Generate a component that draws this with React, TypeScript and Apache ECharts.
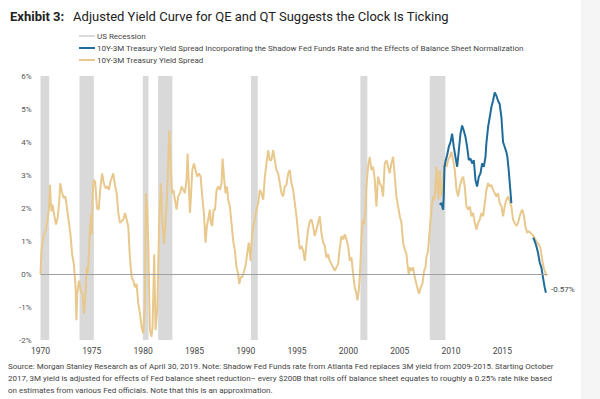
import React, { useEffect, useRef } from "react";
import * as echarts from "echarts";

// ---- Data ----
const recessions: [number, number][] = [
  [1970.0, 1970.85],
  [1973.8, 1975.2],
  [1979.97, 1980.52],
  [1981.46, 1982.85],
  [1990.5, 1991.17],
  [2001.17, 2001.85],
  [2007.93, 2009.45],
];

// 10Y-3M Treasury Yield Spread (year, %)
const treasurySpread: [number, number][] = [
  [1970.0, 0.0], [1970.08, 0.6], [1970.17, 0.9], [1970.33, 1.2], [1970.5, 1.3], [1970.67, 1.6],
  [1970.83, 2.0], [1970.92, 2.7], [1971.0, 2.2], [1971.08, 1.9], [1971.17, 2.1], [1971.33, 1.8],
  [1971.5, 1.5], [1971.67, 1.7], [1971.83, 2.2], [1971.92, 2.75], [1972.08, 2.5], [1972.25, 2.3],
  [1972.42, 2.35], [1972.58, 2.0], [1972.75, 1.6], [1972.92, 1.2], [1973.08, 0.6], [1973.25, 0.3],
  [1973.42, -0.4], [1973.5, -1.4], [1973.58, -0.6], [1973.75, -0.2], [1973.92, -0.5], [1974.08, -0.6],
  [1974.25, -1.2], [1974.42, -0.4], [1974.5, 0.2], [1974.58, 0.0], [1974.67, 0.3], [1974.83, 1.4],
  [1974.92, 1.8], [1975.0, 1.2], [1975.08, 2.4], [1975.17, 2.85], [1975.33, 2.8], [1975.5, 2.0],
  [1975.67, 1.95], [1975.83, 2.6], [1976.0, 3.05], [1976.17, 2.75], [1976.33, 2.6], [1976.5, 2.65],
  [1976.67, 2.55], [1976.77, 2.75], [1977.09, 3.05], [1977.25, 2.7], [1977.42, 2.45], [1977.58, 1.85],
  [1977.74, 1.55], [1978.07, 1.65], [1978.23, 1.85], [1978.39, 1.65], [1978.55, 1.45], [1978.71, 0.5],
  [1978.88, -0.1], [1979.04, -0.2], [1979.2, -0.4], [1979.36, -0.3], [1979.53, -0.9], [1979.69, -1.2],
  [1979.85, -1.6], [1980.01, -1.8], [1980.17, -0.9], [1980.27, 2.45], [1980.4, 1.95], [1980.5, 0.9],
  [1980.66, -1.7], [1980.82, -1.9], [1980.92, -1.6], [1981.08, 0.6], [1981.21, -1.7], [1981.37, -1.1],
  [1981.57, 1.6], [1981.73, 2.75], [1981.9, 1.5], [1982.03, 0.9], [1982.19, 1.6], [1982.35, 2.45],
  [1982.55, 4.35], [1982.68, 3.35], [1982.81, 2.45], [1982.94, 2.55], [1983.1, 2.25], [1983.26, 1.95],
  [1983.42, 2.35], [1983.59, 2.45], [1983.75, 2.65], [1983.91, 2.55], [1984.07, 2.45], [1984.23, 2.85],
  [1984.33, 3.65], [1984.46, 2.65], [1984.56, 1.85], [1984.66, 2.35], [1984.79, 3.15], [1984.95, 3.35],
  [1985.11, 3.15], [1985.27, 2.95], [1985.44, 3.05], [1985.6, 2.95], [1985.76, 2.35], [1985.92, 1.85],
  [1986.08, 0.95], [1986.21, 1.45], [1986.34, 1.65], [1986.5, 1.95], [1986.6, 1.55], [1986.73, 1.45],
  [1986.86, 1.95], [1987.0, 1.95], [1987.16, 2.55], [1987.32, 2.65], [1987.48, 2.55], [1987.64, 2.75],
  [1987.74, 3.5], [1987.9, 2.85], [1988.03, 2.45], [1988.16, 2.65], [1988.29, 2.25], [1988.45, 2.05],
  [1988.61, 1.55], [1988.78, 1.0], [1988.94, 0.7], [1989.1, 0.2], [1989.26, 0.0], [1989.36, -0.3],
  [1989.52, -0.1], [1989.65, -0.1], [1989.85, 0.1], [1990.01, 0.3], [1990.17, 0.7], [1990.3, 0.95],
  [1990.47, 0.4], [1990.56, 0.95], [1990.73, 1.45], [1990.89, 1.65], [1991.05, 1.95], [1991.21, 2.15],
  [1991.37, 2.55], [1991.53, 2.45], [1991.7, 2.25], [1991.86, 2.95], [1992.02, 3.35], [1992.18, 3.75],
  [1992.34, 3.45], [1992.5, 3.45], [1992.67, 3.75], [1992.83, 3.45], [1992.99, 3.15], [1993.15, 3.05],
  [1993.32, 2.75], [1993.48, 2.45], [1993.64, 2.35], [1993.8, 2.65], [1993.96, 2.7], [1994.13, 3.05],
  [1994.29, 3.15], [1994.45, 2.75], [1994.62, 2.55], [1994.78, 2.15], [1994.94, 1.75], [1995.1, 1.25],
  [1995.26, 0.75], [1995.42, 0.85], [1995.59, 0.7], [1995.75, 0.4], [1995.91, 0.9], [1996.07, 1.35],
  [1996.24, 1.6], [1996.4, 1.65], [1996.56, 1.45], [1996.72, 1.15], [1996.89, 1.35], [1997.05, 1.55],
  [1997.21, 1.75], [1997.37, 1.25], [1997.54, 0.95], [1997.7, 0.85], [1997.86, 0.5], [1998.02, 0.6],
  [1998.18, 0.4], [1998.35, 0.3], [1998.51, 0.2], [1998.67, 0.1], [1998.83, 0.2], [1999.0, 0.3],
  [1999.16, 0.8], [1999.33, 1.15], [1999.49, 1.05], [1999.65, 1.2], [1999.81, 1.05], [1999.97, 0.85],
  [2000.14, 0.4], [2000.3, 0.5], [2000.46, 0.0], [2000.62, -0.4], [2000.79, -0.6], [2000.88, -0.8],
  [2001.01, -0.5], [2001.14, 0.1], [2001.27, 1.1], [2001.4, 1.65], [2001.53, 1.5], [2001.66, 1.95],
  [2001.75, 2.65], [2001.92, 3.25], [2002.08, 3.55], [2002.24, 3.15], [2002.41, 3.25], [2002.57, 2.85],
  [2002.73, 2.05], [2002.89, 2.95], [2003.06, 2.75], [2003.22, 2.65], [2003.38, 2.35], [2003.54, 3.35],
  [2003.71, 3.45], [2003.87, 3.25], [2004.03, 3.05], [2004.19, 3.35], [2004.36, 3.55], [2004.52, 2.95],
  [2004.68, 2.35], [2004.84, 2.05], [2005.01, 1.75], [2005.17, 1.55], [2005.33, 0.95], [2005.49, 0.75],
  [2005.66, 0.6], [2005.75, 0.3], [2005.88, 0.0], [2006.0, 0.2], [2006.14, 0.1], [2006.3, 0.2],
  [2006.47, -0.1], [2006.63, -0.3], [2006.79, -0.5], [2006.89, -0.6], [2007.05, -0.4], [2007.21, -0.3],
  [2007.38, 0.1], [2007.51, 0.2], [2007.6, 0.5], [2007.76, 0.7], [2007.93, 1.35], [2008.09, 1.95],
  [2008.25, 2.35], [2008.32, 2.25], [2008.45, 2.45], [2008.58, 3.25], [2008.68, 2.65], [2008.77, 2.25],
  [2008.9, 3.15], [2009.07, 2.35], [2009.23, 2.85], [2009.39, 3.35], [2009.56, 3.25], [2009.72, 3.45],
  [2009.88, 3.55], [2010.04, 3.7], [2010.2, 3.45], [2010.37, 3.15], [2010.53, 2.55], [2010.69, 2.35],
  [2010.85, 2.65], [2011.02, 2.85], [2011.18, 2.95], [2011.34, 2.65], [2011.5, 2.05], [2011.66, 1.95],
  [2011.83, 2.05], [2011.99, 1.75], [2012.15, 1.85], [2012.31, 1.55], [2012.48, 1.35], [2012.64, 1.55],
  [2012.8, 1.65], [2012.97, 1.85], [2013.13, 1.75], [2013.29, 2.15], [2013.45, 2.55], [2013.61, 2.75],
  [2013.77, 2.65], [2013.93, 2.7], [2014.09, 2.55], [2014.26, 2.45], [2014.42, 2.35], [2014.58, 2.45],
  [2014.74, 2.15], [2014.91, 2.05], [2015.07, 1.75], [2015.23, 2.05], [2015.39, 2.25], [2015.56, 2.35],
  [2015.72, 2.2], [2015.88, 2.05], [2016.04, 1.65], [2016.2, 1.55], [2016.37, 1.45], [2016.53, 1.55],
  [2016.69, 1.75], [2016.85, 1.9], [2016.95, 1.95], [2017.11, 1.75], [2017.24, 1.45], [2017.41, 1.25],
  [2017.57, 1.3], [2017.73, 1.25], [2017.89, 1.2], [2018.05, 1.15], [2018.22, 1.05], [2018.38, 0.95],
  [2018.54, 0.9], [2018.7, 0.8], [2018.8, 0.6], [2018.93, 0.35], [2019.06, 0.15], [2019.19, 0.05],
  [2019.27, -0.05],
];

// Shadow-rate adjusted spread, QE period (year, %)
const shadowSpreadQE: [number, number][] = [
  [2008.9, 2.1], [2009.07, 2.15], [2009.23, 1.95], [2009.29, 2.35], [2009.36, 3.25], [2009.49, 3.45],
  [2009.62, 3.6], [2009.78, 3.85], [2009.95, 4.0], [2010.11, 4.25], [2010.27, 3.85], [2010.43, 3.55],
  [2010.6, 3.25], [2010.76, 3.75], [2010.92, 4.25], [2011.08, 4.5], [2011.24, 4.35], [2011.41, 4.15],
  [2011.57, 3.85], [2011.73, 3.45], [2011.89, 3.5], [2012.06, 3.35], [2012.22, 3.45], [2012.38, 2.85],
  [2012.54, 2.65], [2012.71, 2.95], [2012.87, 3.05], [2013.03, 3.35], [2013.19, 3.25], [2013.36, 3.55],
  [2013.44, 3.95], [2013.61, 4.45], [2013.77, 4.75], [2013.93, 5.05], [2014.09, 5.25], [2014.26, 5.5],
  [2014.42, 5.4], [2014.58, 5.25], [2014.74, 5.15], [2014.91, 4.75], [2015.07, 4.0], [2015.23, 3.85],
  [2015.39, 3.7], [2015.49, 3.55], [2015.62, 3.15], [2015.75, 2.65], [2015.88, 2.15],
];

// Balance-sheet-adjusted spread, QT period (year, %)
const shadowSpreadQT: [number, number][] = [
  [2018.0, 1.1], [2018.15, 1.0], [2018.31, 0.85], [2018.47, 0.65], [2018.64, 0.35], [2018.8, 0.2],
  [2018.96, -0.1], [2019.12, -0.4], [2019.25, -0.57],
];

const yearTicks = [1970, 1975, 1980, 1985, 1990, 1995, 2000, 2005, 2010, 2015];
const lastValueLabel = "-0.57%";

const sourceLines = [
  "Source: Morgan Stanley Research as of April 30, 2019. Note: Shadow Fed Funds rate from Atlanta Fed replaces 3M yield from 2009-2015. Starting October",
  "2017, 3M yield is adjusted for effects of Fed balance sheet reduction\u2013 every $200B that rolls off balance sheet equates to roughly a 0.25% rate hike based",
  "on estimates from various Fed officials. Note that this is an approximation.",
];

const NAME_REC = "US Recession";
const NAME_SHADOW =
  "10Y-3M Treasury Yield Spread Incorporating the Shadow Fed Funds Rate and the Effects of Balance Sheet Normalization";
const NAME_SPREAD = "10Y-3M Treasury Yield Spread";

const FONT = "Roboto, 'Noto Sans', sans-serif";
const GRAY = "#d9d9d9";
const BLUE = "#1f6b9a";
const GOLD = "#e8c88c";

export default function App() {
  const ref = useRef<HTMLDivElement>(null);

  useEffect(() => {
    if (!ref.current) return;
    const chart = echarts.init(ref.current, undefined, { renderer: "svg" });

    const option: any = {
      animation: false,
      backgroundColor: "#ffffff",
      textStyle: { fontFamily: FONT },
      title: {
        left: 5,
        top: 2,
        text: "{b|Exhibit 3:}  {n|Adjusted Yield Curve for QE and QT Suggests the Clock Is Ticking}",
        textStyle: {
          rich: {
            b: { fontFamily: FONT, fontSize: 13, fontWeight: "bold", color: "#222" },
            n: { fontFamily: FONT, fontSize: 13, fontWeight: "normal", color: "#222" },
          },
        },
      },
      legend: {
        orient: "vertical",
        left: 74,
        top: 26,
        itemGap: 2,
        itemWidth: 16,
        itemHeight: 2,
        textStyle: { fontFamily: FONT, fontSize: 8, color: "#444", lineHeight: 10, padding: [0, 0, 0, -3] },
        data: [
          { name: NAME_REC, icon: "rect", itemStyle: { color: GRAY } },
          { name: NAME_SHADOW, icon: "rect", itemStyle: { color: BLUE } },
          { name: NAME_SPREAD, icon: "rect", itemStyle: { color: GOLD } },
        ],
        selectedMode: false,
      },
      grid: { left: 40.5, right: 52.5, top: 76, bottom: 59, containLabel: false },
      xAxis: {
        type: "value",
        min: 1970,
        max: 2019.4,
        interval: 5,
        axisLine: { show: false },
        axisTick: { show: false },
        splitLine: { show: false },
        axisLabel: {
          margin: 6,
          fontFamily: FONT,
          fontSize: 8.5,
          color: "#444",
          formatter: (v: number) => (yearTicks.includes(Math.round(v * 100) / 100) ? String(v) : ""),
        },
      },
      yAxis: {
        type: "value",
        min: -2,
        max: 6,
        interval: 1,
        axisLine: { show: false },
        axisTick: { show: false },
        splitLine: { show: false },
        axisLabel: { margin: 9, fontFamily: FONT, fontSize: 8, color: "#555", formatter: "{value}%" },
      },
      graphic: [
        { type: "rect", right: 0, top: 0, shape: { width: 19, height: 399 }, style: { fill: "#f5f5f5" }, z: -10 },
        ...sourceLines.map((t, i) => ({
          type: "text",
          left: 8,
          top: 362 + i * 12,
          style: { text: t, fontFamily: FONT, fontSize: 8, fill: "#444" },
        })),
      ],
      series: [
        {
          name: NAME_REC,
          type: "line",
          data: [],
          color: GRAY,
          z: 1,
          markArea: {
            silent: true,
            itemStyle: { color: GRAY },
            data: recessions.map(([a, b]) => [{ xAxis: a }, { xAxis: b }]),
          },
        },
        {
          name: NAME_SPREAD,
          type: "line",
          data: treasurySpread,
          color: GOLD,
          showSymbol: false,
          symbol: "none",
          lineStyle: { width: 2, color: GOLD },
          z: 3,
          markLine: {
            silent: true,
            symbol: "none",
            label: { show: false },
            lineStyle: { color: "#a0a0a0", width: 1, type: "solid" },
            data: [{ yAxis: 0 }],
          },
        },
        {
          name: NAME_SHADOW,
          type: "line",
          data: shadowSpreadQE,
          color: BLUE,
          showSymbol: false,
          symbol: "none",
          lineStyle: { width: 2, color: BLUE },
          z: 4,
        },
        {
          name: NAME_SHADOW,
          type: "line",
          data: shadowSpreadQT,
          color: BLUE,
          showSymbol: false,
          symbol: "none",
          lineStyle: { width: 2, color: BLUE },
          z: 4,
          endLabel: {
            show: true,
            formatter: () => lastValueLabel,
            fontFamily: FONT,
            fontSize: 8,
            color: "#444",
            distance: 5,
            offset: [0, -3],
          },
        },
      ],
    };

    chart.setOption(option);
    return () => chart.dispose();
  }, []);

  return <div ref={ref} style={{ width: 600, height: 399, position: "absolute", left: 0, top: 0 }} />;
}
